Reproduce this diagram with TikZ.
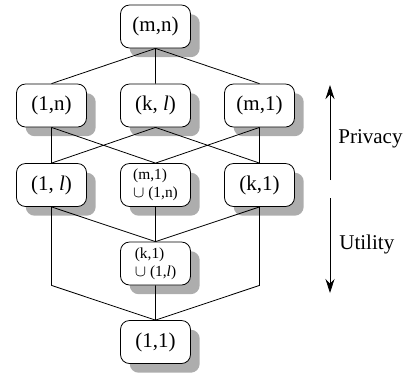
\documentclass[tikz,border=0pt]{standalone}
\usepackage{fontspec}
\setmainfont{Liberation Serif}
\usetikzlibrary{shadows,arrows.meta}
\tikzset{
  box/.style={draw,rounded corners=4.5pt,fill=white,minimum width=35pt,minimum height=21.5pt,inner sep=2pt,
    drop shadow={shadow xshift=4.6pt,shadow yshift=-4.6pt,fill=black!32,opacity=1}},
  duo/.style={box,align=left,font=\fontsize{7.7}{9}\selectfont}
}
\begin{document}
\begin{tikzpicture}[x=0.5pt,y=-0.5pt,>={Stealth[length=7pt,width=4.5pt]},font=\fontsize{10.5}{12}\selectfont]
        \def\xa{51.5} \def\xb{155.5} \def\xc{259.5}
        \useasboundingbox (0,0) rectangle (407,377);
        %===========================================
        \node[box] (mn) at (\xb,26.5) {(m,n)};
        \node[box] (1n) at (\xa,105.5) {(1,n)};
        \node[box] (kl) at (\xb,105.5) {(k, \textit{l})};
        \node[box] (m1) at (\xc,105.5) {(m,1)};
        \node[box] (1l) at (\xa,185) {(1, \textit{l})};
        \node[duo] (uu) at (\xb,185) {(m,1)\\$\cup$~(1,n)};
        \node[box] (k1) at (\xc,185) {(k,1)};
        \node[duo] (ud) at (\xb,263.5) {(k,1)\\$\cup$~(1,\textit{l})};
        \node[box] (11) at (\xb,342) {(1,1)};
        %===========================================
        \draw (mn.south)--(1n.north) (mn.south)--(kl.north) (mn.south)--(m1.north);
        \draw (1n.south)--(1l.north) (1n.south)--(uu.north)
              (kl.south)--(1l.north) (kl.south)--(k1.north)
              (m1.south)--(uu.north) (m1.south)--(k1.north);
        \draw (1l.south)--(ud.north) (uu.south)--(ud.north) (k1.south)--(ud.north);
        \draw (1l.south)--(1l.south|-ud.south)--(11.north)
              (ud.south)--(11.north)
              (k1.south)--(k1.south|-ud.south)--(11.north);
        %===========================================
        \coordinate (pb) at (330,180); \coordinate (pt) at (330,85);
        \coordinate (ut) at (330,198); \coordinate (ub) at (330,293);
        \draw[->] (pb)--(pt);
        \draw[->] (ut)--(ub);
        \node[anchor=west,inner sep=0pt] (pv) at (338,139) {Privacy};
        \node[anchor=west,inner sep=0pt] (ut) at (339,244) {Utility};
\end{tikzpicture}
\end{document}
